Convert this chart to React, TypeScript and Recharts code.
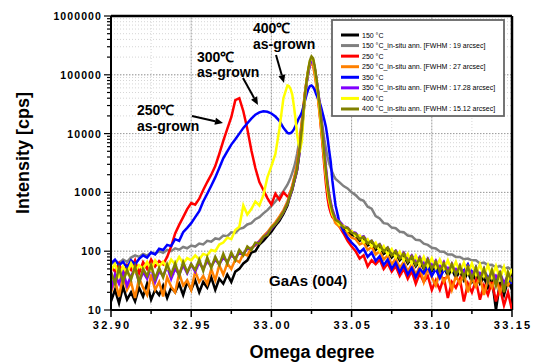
import React from 'react';
import { LineChart, Line, XAxis, YAxis, CartesianGrid, ReferenceLine } from 'recharts';

const OMEGA = [
  32.9, 32.9025, 32.905, 32.9075, 32.91, 32.9125, 32.915, 32.9175, 32.92, 32.9225,
  32.925, 32.9275, 32.93, 32.9325, 32.935, 32.9375, 32.94, 32.9425, 32.945, 32.9475,
  32.95, 32.9525, 32.955, 32.9575, 32.96, 32.9625, 32.965, 32.9675, 32.97, 32.9725,
  32.975, 32.9775, 32.98, 32.9825, 32.985, 32.9875, 32.99, 32.9925, 32.995, 32.9975,
  33.0, 33.0025, 33.005, 33.0075, 33.01,
  33.011, 33.012, 33.013, 33.014, 33.015, 33.016, 33.017, 33.018, 33.019, 33.02,
  33.021, 33.022, 33.023, 33.024, 33.025, 33.026, 33.027, 33.028, 33.029, 33.03,
  33.031, 33.032, 33.033, 33.034, 33.035, 33.036, 33.037, 33.038, 33.039,
  33.04, 33.0425, 33.045, 33.0475, 33.05, 33.0525, 33.055, 33.0575, 33.06, 33.0625,
  33.065, 33.0675, 33.07, 33.0725, 33.075, 33.0775, 33.08, 33.0825, 33.085, 33.0875,
  33.09, 33.0925, 33.095, 33.0975, 33.1, 33.1025, 33.105, 33.1075, 33.11, 33.1125,
  33.115, 33.1175, 33.12, 33.1225, 33.125, 33.1275, 33.13, 33.1325, 33.135, 33.1375,
  33.14, 33.1425, 33.145, 33.1475, 33.15,
];

const BLACK_150 = [
  14, 22, 13, 25, 15, 20, 14, 24, 17, 28,
  15, 22, 18, 26, 16, 24, 20, 28, 18, 30,
  22, 32, 20, 30, 24, 36, 22, 34, 28, 40,
  30, 45, 50, 62, 70, 95, 100, 130, 150, 180,
  215, 270, 330, 430, 600,
  760, 920, 1100, 1450, 1850, 2400, 3800, 6500, 11000, 23000,
  45000, 75000, 115000, 160000, 185000, 175000, 130000, 85000, 50000, 29000,
  15000, 8000, 4000, 2100, 1200, 800, 580, 450, 380,
  320, 280, 240, 215, 190, 180, 150, 160, 125, 135,
  105, 120, 90, 100, 78, 92, 70, 84, 62, 76,
  55, 68, 50, 64, 46, 58, 42, 55, 38, 50,
  35, 46, 32, 44, 30, 40, 28, 36, 24, 34,
  10, 30, 18, 32, 22,
];

const GRAY_150_ANN = [
  60, 68, 62, 72, 66, 78, 85, 80, 90, 84,
  95, 90, 100, 94, 105, 100, 112, 106, 118, 112,
  125, 120, 135, 130, 150, 145, 165, 160, 185, 180,
  210, 205, 240, 250, 285, 300, 350, 380, 440, 500,
  590, 700, 850, 1050, 1350,
  1550, 1800, 2150, 2600, 3300, 4500, 6500, 10000, 16000, 28000,
  48000, 75000, 110000, 145000, 160000, 150000, 115000, 80000, 52000, 33000,
  20000, 12500, 8000, 5500, 4000, 3100, 2600, 2200, 1900,
  1700, 1480, 1280, 1170, 1000, 900, 770, 720, 570, 530,
  395, 360, 300, 292, 252, 246, 214, 210, 185, 180,
  156, 154, 134, 128, 114, 111, 99, 98, 88, 88,
  80, 80, 73, 75, 70, 70, 62, 64, 58, 59,
  53, 56, 50, 53, 48,
];

const RED_250 = [
  55, 45, 62, 40, 58, 48, 70, 42, 65, 50,
  72, 55, 68, 60, 80, 120, 200, 280, 380, 520,
  660, 620, 780, 1100, 1500, 2000, 2800, 4500, 7500, 12000,
  19000, 37000, 40000, 24000, 12000, 5200, 2600, 1500, 1100, 800,
  620, 950, 750, 1000, 850,
  900, 1050, 1250, 1600, 2100, 2800, 4500, 8000, 14000, 27000,
  50000, 82000, 120000, 160000, 175000, 160000, 115000, 72000, 42000, 24000,
  12000, 6000, 2800, 1400, 800, 560, 450, 380, 360,
  340, 260, 200, 150, 120, 100, 75, 85, 55, 70,
  60, 72, 50, 62, 45, 56, 38, 50, 34, 46,
  28, 42, 30, 38, 22, 32, 22, 36, 16, 30,
  24, 34, 14, 28, 20, 32, 15, 26, 18, 30,
  14, 24, 12, 20, 10,
];

const ORANGE_250_ANN = [
  20, 32, 17, 38, 22, 30, 16, 35, 24, 18,
  40, 22, 30, 17, 36, 25, 20, 42, 26, 32,
  22, 45, 30, 38, 28, 50, 32, 58, 40, 62,
  50, 72, 65, 90, 85, 115, 125, 150, 180, 210,
  260, 310, 390, 500, 700,
  850, 1050, 1300, 1700, 2200, 3000, 5000, 9000, 16000, 30000,
  52000, 82000, 115000, 145000, 155000, 140000, 100000, 65000, 40000, 22000,
  12000, 6500, 3500, 1900, 1100, 720, 540, 420, 350,
  300, 260, 220, 200, 170, 160, 130, 140, 105, 118,
  88, 100, 72, 85, 60, 75, 52, 66, 45, 60,
  40, 55, 30, 50, 36, 26, 45, 30, 40, 22,
  38, 28, 42, 20, 35, 25, 38, 18, 33, 24,
  36, 20, 30, 26, 34,
];

const BLUE_350 = [
  62, 72, 58, 66, 52, 70, 60, 74, 85, 78,
  95, 88, 110, 105, 128, 122, 160, 150, 210, 250,
  300, 380, 480, 700, 950, 1300, 1800, 2600, 3800, 5000,
  6500, 8000, 10000, 12500, 15000, 18000, 21000, 23000, 24000, 23500,
  22000, 19500, 16500, 12500, 10300,
  10100, 10200, 10800, 11800, 13500, 15500, 18000, 20000, 23000, 29000,
  37000, 47000, 57000, 64000, 66000, 62000, 55000, 46000, 40000, 35000,
  28000, 22000, 17000, 13000, 8500, 5200, 3300, 1600, 950,
  600, 300, 220, 170, 140, 120, 95, 110, 80, 95,
  68, 82, 58, 72, 50, 64, 44, 58, 40, 52,
  36, 50, 42, 55, 38, 50, 35, 48, 44, 56,
  40, 52, 46, 60, 42, 54, 38, 50, 34, 44,
  30, 40, 26, 35, 28,
];

const PURPLE_350_ANN = [
  22, 40, 28, 45, 26, 38, 50, 30, 44, 34,
  52, 30, 46, 38, 55, 34, 50, 40, 58, 42,
  60, 45, 64, 50, 68, 55, 72, 60, 78, 66,
  85, 75, 95, 90, 110, 110, 130, 145, 170, 200,
  240, 290, 355, 460, 640,
  770, 930, 1120, 1450, 1850, 2400, 3700, 6300, 11000, 22000,
  42000, 72000, 110000, 150000, 172000, 168000, 130000, 88000, 56000, 34000,
  19000, 10000, 5200, 2700, 1500, 950, 680, 520, 430,
  360, 320, 270, 250, 215, 205, 170, 180, 145, 150,
  120, 132, 105, 115, 90, 102, 80, 95, 72, 85,
  66, 80, 60, 75, 56, 70, 52, 66, 48, 62,
  46, 58, 42, 56, 40, 52, 38, 50, 30, 46,
  36, 44, 28, 40, 34,
];

const YELLOW_400 = [
  48, 60, 38, 55, 42, 62, 45, 58, 50, 66,
  48, 70, 55, 66, 52, 72, 60, 80, 62, 76,
  70, 85, 72, 90, 85, 105, 100, 130, 140, 170,
  160, 230, 260, 600, 420, 520, 700, 600, 900, 1800,
  2800, 4500, 12000, 40000, 66000,
  64000, 57000, 46000, 30000, 18000, 10000, 6500, 5500, 7500, 20000,
  45000, 80000, 125000, 170000, 195000, 180000, 130000, 82000, 50000, 28000,
  15000, 8000, 4000, 2000, 1150, 750, 560, 420, 380,
  350, 280, 270, 220, 220, 180, 185, 140, 160, 120,
  140, 100, 122, 88, 108, 78, 98, 70, 90, 62,
  84, 58, 80, 55, 76, 52, 72, 50, 70, 46,
  66, 44, 64, 42, 62, 40, 60, 38, 58, 36,
  56, 34, 54, 32, 50,
];

const OLIVE_400_ANN = [
  45, 28, 52, 30, 48, 33, 55, 29, 50, 38,
  58, 34, 52, 36, 60, 40, 62, 38, 66, 44,
  60, 48, 72, 46, 78, 52, 80, 58, 90, 62,
  95, 70, 105, 85, 120, 105, 140, 135, 175, 190,
  250, 290, 360, 460, 640,
  780, 950, 1150, 1500, 1900, 2500, 4000, 7000, 12000, 25000,
  48000, 80000, 125000, 175000, 205000, 190000, 140000, 90000, 55000, 32000,
  17000, 9000, 4500, 2300, 1300, 850, 620, 480, 400,
  340, 310, 250, 250, 205, 200, 160, 175, 135, 150,
  115, 130, 98, 115, 85, 100, 75, 92, 66, 82,
  58, 76, 52, 72, 50, 66, 46, 62, 42, 60,
  40, 56, 36, 54, 34, 52, 32, 50, 30, 48,
  26, 46, 20, 44, 30,
];

const SERIES_NAMES = [
  '150 °C',
  '150 °C_in-situ ann. [FWHM : 19 arcsec]',
  '250 °C',
  '250 °C_in-situ ann. [FWHM : 27 arcsec]',
  '350 °C',
  '350 °C_in-situ ann. [FWHM : 17.28 arcsec]',
  '400 °C',
  '400 °C_in-situ ann. [FWHM : 15.12 arcsec]',
];
const SERIES_COLORS = ['#000000', '#808080', '#ff0000', '#ff8000', '#0000ff', '#8000ff', '#ffff00', '#808000'];
const SERIES_VALUES = [BLACK_150, GRAY_150_ANN, RED_250, ORANGE_250_ANN, BLUE_350, PURPLE_350_ANN, YELLOW_400, OLIVE_400_ANN];

const X_TICKS = [32.9, 32.95, 33.0, 33.05, 33.1, 33.15];
const X_MINOR = [32.925, 32.975, 33.025, 33.075, 33.125];
const Y_TICKS = [10, 100, 1000, 10000, 100000, 1000000];
const Y_MINOR = [
  20, 30, 40, 50, 60, 70, 80, 90,
  200, 300, 400, 500, 600, 700, 800, 900,
  2000, 3000, 4000, 5000, 6000, 7000, 8000, 9000,
  20000, 30000, 40000, 50000, 60000, 70000, 80000, 90000,
  200000, 300000, 400000, 500000, 600000, 700000, 800000, 900000,
];

const ANNOTATIONS = [
  { line1: '400℃', line2: 'as-grown', x: 253, y1: 33, y2: 49, arrow: [276, 55, 284, 83] },
  { line1: '300℃', line2: 'as-grown', x: 197, y1: 62, y2: 77, arrow: [243, 78, 258, 105] },
  { line1: '250℃', line2: 'as-grown', x: 137, y1: 115, y2: 131, arrow: [192, 116, 223, 123] },
];

const FONT = '"Liberation Sans", Arial, sans-serif';

const data = OMEGA.map((w, k) => {
  const row: Record<string, number> = { w };
  SERIES_VALUES.forEach((vals, i) => {
    row['s' + i] = vals[k];
  });
  return row;
});

const isMajor = (list: number[], v: number) => list.some((t) => Math.abs(t - v) < 1e-9);

function XTick(props: any) {
  const { x, y, payload } = props;
  const v = payload.value;
  const major = isMajor(X_TICKS, v);
  return (
    <g>
      <line x1={x} x2={x} y1={y} y2={y + (major ? 7 : 4)} stroke="#000" strokeWidth={1.5} />
      {major && (
        <text x={x} y={y + 19} dx={1.1} textAnchor="middle" fontSize={11} fontWeight="bold" letterSpacing={2.2} fontFamily={FONT} fill="#000">
          {v.toFixed(2)}
        </text>
      )}
    </g>
  );
}

function YTick(props: any) {
  const { x, y, payload } = props;
  const v = payload.value;
  const major = isMajor(Y_TICKS, v);
  return (
    <g>
      <line x1={x - (major ? 7 : 4)} x2={x} y1={y} y2={y} stroke="#000" strokeWidth={1.2} />
      {major && (
        <text x={x - 9} y={y + 4} textAnchor="end" fontSize={10.5} fontWeight="bold" letterSpacing={1.1} fontFamily={FONT} fill="#000">
          {String(v)}
        </text>
      )}
    </g>
  );
}

function Arrow({ a }: { a: number[] }) {
  const [x1, y1, x2, y2] = a;
  const ang = Math.atan2(y2 - y1, x2 - x1);
  const L = 8;
  const W = 3.5;
  const bx = x2 - L * Math.cos(ang);
  const by = y2 - L * Math.sin(ang);
  const px = -Math.sin(ang) * W;
  const py = Math.cos(ang) * W;
  return (
    <g>
      <line x1={x1} y1={y1} x2={bx} y2={by} stroke="#000" strokeWidth={2} />
      <polygon points={`${x2},${y2} ${bx + px},${by + py} ${bx - px},${by - py}`} fill="#000" />
    </g>
  );
}

export default function App() {
  return (
    <div style={{ position: 'absolute', left: 0, top: 0, width: 538, height: 363, background: '#fff' }}>
      <LineChart width={538} height={363} data={data} margin={{ top: 16, right: 26, left: 51, bottom: 23 }}>
        <CartesianGrid stroke="#d6d6d6" strokeDasharray="1 2" />
        {X_TICKS.slice(1, -1).map((v) => (
          <ReferenceLine key={'gx' + v} x={v} stroke="#9a9a9a" strokeDasharray="1.5 1.5" />
        ))}
        {Y_TICKS.slice(1, -1).map((v) => (
          <ReferenceLine key={'gy' + v} y={v} stroke="#9a9a9a" strokeDasharray="1.5 1.5" />
        ))}
        <ReferenceLine y={1000000} stroke="#000" strokeWidth={2.5} />
        <ReferenceLine x={33.15} stroke="#000" strokeWidth={2.5} />
        <XAxis
          dataKey="w"
          type="number"
          domain={[32.9, 33.15]}
          allowDataOverflow
          ticks={[...X_TICKS, ...X_MINOR].sort((a, b) => a - b)}
          interval={0}
          tickLine={false}
          tickSize={0}
          tickMargin={0}
          tick={XTick}
          height={30}
          axisLine={{ stroke: '#000', strokeWidth: 2 }}
        />
        <YAxis
          type="number"
          scale="log"
          domain={[10, 1000000]}
          allowDataOverflow
          ticks={[...Y_TICKS, ...Y_MINOR].sort((a, b) => a - b)}
          interval={0}
          tickLine={false}
          tickSize={0}
          tickMargin={0}
          tick={YTick}
          width={60}
          axisLine={{ stroke: '#000', strokeWidth: 2 }}
        />
        {SERIES_NAMES.map((name, i) => (
          <Line
            key={name}
            name={name}
            dataKey={'s' + i}
            type="linear"
            stroke={SERIES_COLORS[i]}
            strokeWidth={2.5}
            dot={false}
            activeDot={false}
            isAnimationActive={false}
          />
        ))}
      </LineChart>
      <svg width={538} height={363} style={{ position: 'absolute', left: 0, top: 0, pointerEvents: 'none' }}>
        <rect x={332} y={20} width={172} height={96} fill="#fff" stroke="#666" strokeWidth={1.8} />
        {SERIES_NAMES.map((name, i) => {
          const cy = 35 + i * 10.57;
          return (
            <g key={name}>
              <line x1={341} x2={359} y1={cy} y2={cy} stroke={SERIES_COLORS[i]} strokeWidth={3} />
              <text x={362} y={cy + 2.5} fontSize={7} fontFamily={FONT} fill="#000">
                {name}
              </text>
            </g>
          );
        })}
        {ANNOTATIONS.map((a) => (
          <g key={a.line1}>
            <text x={a.x} y={a.y1} fontSize={14} fontWeight="bold" fontFamily={FONT} fill="#000">
              {a.line1}
            </text>
            <text x={a.x} y={a.y2} fontSize={14} fontWeight="bold" fontFamily={FONT} fill="#000">
              {a.line2}
            </text>
            <Arrow a={a.arrow} />
          </g>
        ))}
        <text x={269} y={286} fontSize={15} fontWeight="bold" fontFamily={FONT} fill="#000">
          GaAs (004)
        </text>
        <text
          x={29}
          y={153}
          transform="rotate(-90, 29, 153)"
          textAnchor="middle"
          fontSize={18}
          fontWeight="bold"
          fontFamily={FONT}
          fill="#000"
        >
          Intensity [cps]
        </text>
        <text x={312} y={358} textAnchor="middle" fontSize={18} fontWeight="bold" fontFamily={FONT} fill="#000">
          Omega degree
        </text>
      </svg>
    </div>
  );
}
